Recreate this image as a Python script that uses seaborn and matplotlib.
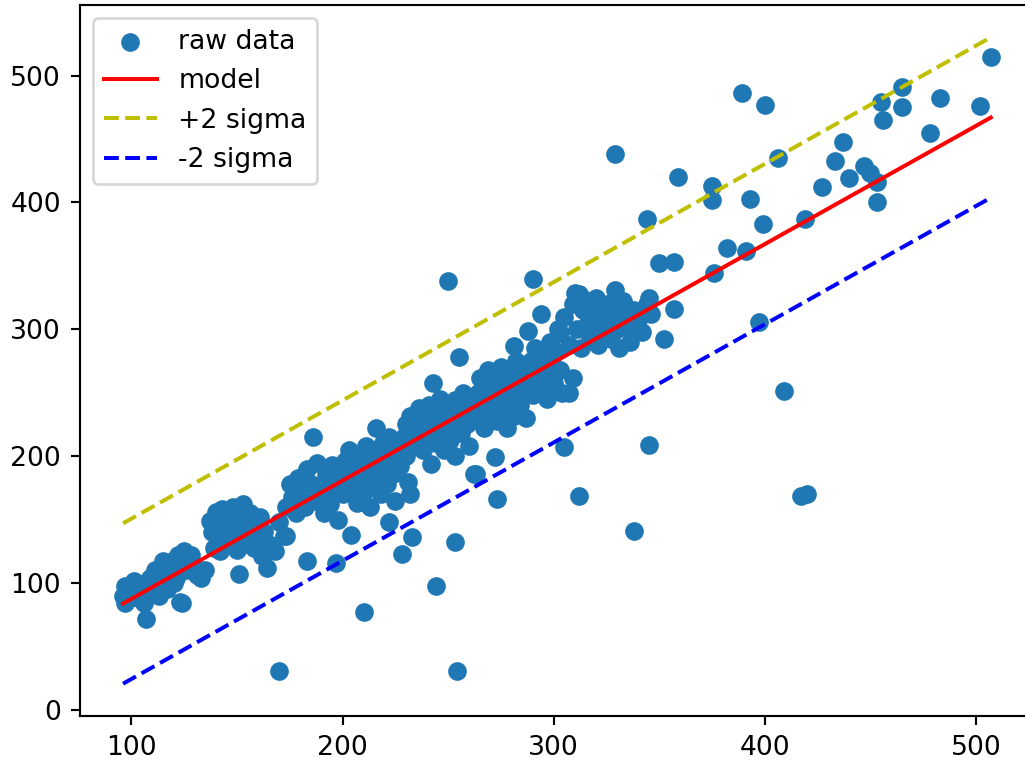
import numpy as np
import pandas as pd
import matplotlib
matplotlib.use("Agg")
import matplotlib.pyplot as plt
import seaborn as sns

# observed samples (x, y)
raw_x = [
    96, 97, 97, 100, 101, 103, 105, 106, 107, 108, 109, 111, 112, 113, 114, 116, 117, 118,
    120, 121, 122, 123, 124, 125, 126, 127, 128, 130, 131, 133, 135, 120, 115, 110,
    137, 138, 139, 140, 141, 142, 143, 144, 145, 146, 147, 148, 149, 150, 151, 152, 153,
    154, 155, 156, 157, 158, 159, 160, 161, 162, 163, 151, 164, 166, 168,
    170, 172, 173, 175, 176, 178, 179, 180, 182, 183, 173, 185, 186, 187, 188, 190, 191,
    192, 194, 195, 196, 197, 198, 199, 183, 170,
    200, 201, 202, 203, 204, 205, 206, 207, 208, 209, 210, 211, 212, 213, 214, 215, 216,
    216, 217, 218, 219, 220, 221, 222, 222, 223, 224, 225, 226, 227, 228, 229, 230, 231,
    232, 233, 234, 235, 210,
    230, 232, 234, 236, 237, 238, 239, 240, 241, 242, 242, 243, 244, 245, 246, 247, 248,
    249, 250, 251, 252, 253, 253, 254, 255, 256, 257, 258, 259, 260, 261, 262, 244, 253,
    254, 250,
    263, 264, 265, 266, 267, 268, 269, 270, 271, 272, 272, 273, 274, 275, 276, 277, 278,
    279, 280, 281, 281, 282, 283, 284, 285, 286, 287, 288, 288, 289, 290, 290, 291, 292,
    293, 294, 295, 296, 297, 298, 299, 300, 301, 302, 303, 304, 305, 307, 309, 273, 263,
    303, 305, 307, 309, 310, 311, 312, 313, 314, 315, 316, 317, 318, 319, 320, 321, 322,
    323, 325, 326, 327, 328, 329, 330, 331, 332, 333, 335, 336, 338, 340, 342, 344, 345,
    346, 312, 345, 338, 329, 344,
    350, 357, 352, 357, 359, 375, 375, 376, 382, 391, 393, 397, 389, 399, 400, 406, 409,
    417, 420, 419, 427, 433, 437, 440, 447, 450, 453, 453, 455, 456, 465, 465, 478, 483,
    502, 507,
]
raw_y = [
    90, 98, 84, 95, 102, 88, 99, 84, 72, 93, 104, 110, 98, 90, 103, 112, 95, 108,
    118, 104, 122, 85, 84, 125, 110, 116, 122, 113, 106, 104, 110, 100, 117, 101,
    149, 140, 128, 156, 134, 125, 158, 145, 137, 152, 130, 160, 143, 126, 150, 136, 162,
    145, 131, 155, 140, 128, 148, 136, 152, 121, 140, 107, 112, 130, 125,
    148, 137, 160, 178, 168, 155, 183, 172, 160, 190, 137, 178, 215, 165, 195, 172, 155,
    185, 162, 193, 176, 116, 150, 188, 117, 31,
    170, 196, 183, 205, 138, 175, 192, 163, 200, 185, 172, 208, 190, 160, 198, 180, 222,
    205, 188, 170, 210, 195, 178, 148, 215, 200, 186, 165, 207, 192, 123, 215, 200, 180,
    170, 136, 222, 208, 77,
    225, 232, 212, 238, 224, 205, 230, 215, 240, 194, 226, 258, 210, 232, 245, 220, 205,
    236, 226, 213, 242, 244, 200, 230, 278, 218, 250, 236, 225, 208, 243, 186, 98, 132,
    31, 338,
    230, 250, 262, 240, 222, 255, 268, 235, 248, 199, 260, 228, 245, 270, 238, 255, 222,
    265, 248, 287, 232, 275, 258, 240, 268, 250, 230, 299, 262, 275, 340, 248, 285, 265,
    252, 312, 278, 260, 245, 290, 272, 258, 282, 300, 268, 250, 207, 250, 262, 166, 186,
    297, 310, 288, 320, 329, 300, 328, 285, 315, 323, 305, 292, 318, 300, 325, 288, 310,
    298, 320, 305, 292, 316, 331, 300, 285, 312, 322, 303, 290, 315, 307, 298, 320, 325,
    312, 169, 209, 141, 438, 387,
    352, 353, 292, 316, 420, 413, 402, 344, 364, 362, 403, 306, 486, 383, 477, 435, 251,
    169, 170, 387, 412, 433, 448, 419, 429, 423, 416, 400, 479, 465, 491, 475, 455, 482,
    476, 515,
]

# fitted linear model and residual spread
model_slope = 0.932
model_intercept = -5.6
sigma = 31.6

x = np.array(raw_x, dtype=float)
y = np.array(raw_y, dtype=float)
data = pd.DataFrame({"x": x, "y": y})

line_x = np.array([x.min(), x.max()])
fit = pd.DataFrame({
    "x": line_x,
    "model": model_intercept + model_slope * line_x,
})
fit["upper"] = fit["model"] + 2 * sigma
fit["lower"] = fit["model"] - 2 * sigma

dpi = 192
fig = plt.figure(figsize=(1025 / dpi, 761 / dpi), dpi=dpi)
ax = fig.add_axes([0.0777, 0.0591, 0.9313, 0.9343])

sns.scatterplot(data=data, x="x", y="y", ax=ax, color="#1f77b4", s=36,
                edgecolor="#1f77b4", linewidth=1, label="raw data", zorder=2)
sns.lineplot(data=fit, x="x", y="model", ax=ax, color="r", linewidth=1.5,
             label="model", zorder=3)
sns.lineplot(data=fit, x="x", y="upper", ax=ax, color="y", linewidth=1.5,
             linestyle="--", label="+2 sigma", zorder=3)
sns.lineplot(data=fit, x="x", y="lower", ax=ax, color="b", linewidth=1.5,
             linestyle="--", label="-2 sigma", zorder=3)

ax.set_xlabel("")
ax.set_ylabel("")
ax.set_xticks([100, 200, 300, 400, 500])
ax.set_yticks([0, 100, 200, 300, 400, 500])
ax.legend(loc="upper left")

fig.savefig("out.png", dpi=dpi)
